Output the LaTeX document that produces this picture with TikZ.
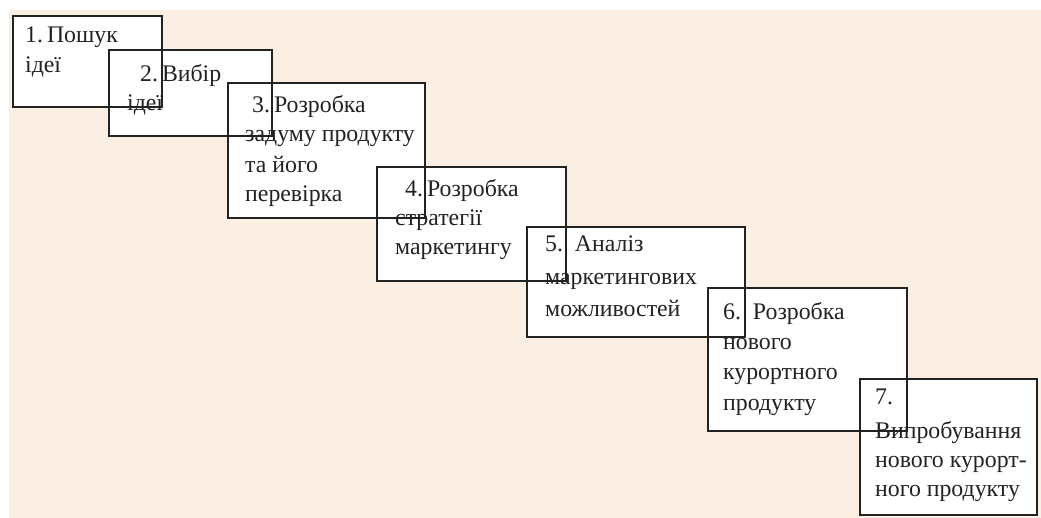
\documentclass[tikz,border=0pt]{standalone}
\usepackage{fontspec}
\setmainfont{Liberation Serif}
\definecolor{bgbeige}{HTML}{FBEEE3}
\definecolor{ink}{HTML}{222222}
\begin{document}
\begin{tikzpicture}[x=1pt,y=-1pt,
  boxfill/.style={anchor=north west, inner sep=0pt, outer sep=0pt, fill=white, draw=none},
  boxline/.style={draw=ink, line width=1.6pt},
  txt/.style={anchor=base west, inner sep=0pt, text=ink, font=\fontsize{23.8}{28}\selectfont}]
\useasboundingbox (0,0) rectangle (1041,518);
\fill[white] (0,0) rectangle (1041,518);
\fill[bgbeige] (9,10) rectangle (1041,518);
% box fills
\node[boxfill, minimum width=149pt, minimum height=91pt] (b1) at (13,16) {};
\node[boxfill, minimum width=163pt, minimum height=86pt] (b2) at (109,50) {};
\node[boxfill, minimum width=197pt, minimum height=135pt] (b3) at (228,83) {};
\node[boxfill, minimum width=189pt, minimum height=114pt] (b4) at (377,167) {};
\node[boxfill, minimum width=218pt, minimum height=110pt] (b5) at (527,227) {};
\node[boxfill, minimum width=199pt, minimum height=143pt] (b6) at (708,288) {};
\node[boxfill, minimum width=177pt, minimum height=136pt] (b7) at (860,379) {};
% box borders
\foreach \b in {b1,b2,b3,b4,b5,b6,b7}
  \draw[boxline] (\b.north west) rectangle (\b.south east);
% texts
\node[txt] (t1a) at (25,43) {1.\,Пошук};
\node[txt] (t1b) at (25,73) {ідеї};
\node[txt] (t2a) at (140,82) {2.\,Вибір};
\node[txt] (t2b) at (127,111) {ідеї};
\node[txt] (t3a) at (252,113) {3.\,Розробка};
\node[txt] (t3b) at (245,142) {задуму продукту};
\node[txt] (t3c) at (245,173) {та його};
\node[txt] (t3d) at (245,202) {перевірка};
\node[txt] (t4a) at (405,197) {4.\,Розробка};
\node[txt] (t4b) at (395,226) {стратегії};
\node[txt] (t4c) at (395,255) {маркетингу};
\node[txt] (t5a) at (545,252) {5.\ \ Аналіз};
\node[txt] (t5b) at (545,285) {маркетингових};
\node[txt] (t5c) at (545,317) {можливостей};
\node[txt] (t6a) at (723,320) {6.\ \ Розробка};
\node[txt] (t6b) at (723,349) {нового};
\node[txt] (t6c) at (723,379) {курортного};
\node[txt] (t6d) at (723,410) {продукту};
\node[txt] (t7a) at (875,404) {7.};
\node[txt] (t7b) at (875,438) {Випробування};
\node[txt] (t7c) at (875,467) {нового курорт-};
\node[txt] (t7d) at (875,496) {ного продукту};
\end{tikzpicture}
\end{document}
